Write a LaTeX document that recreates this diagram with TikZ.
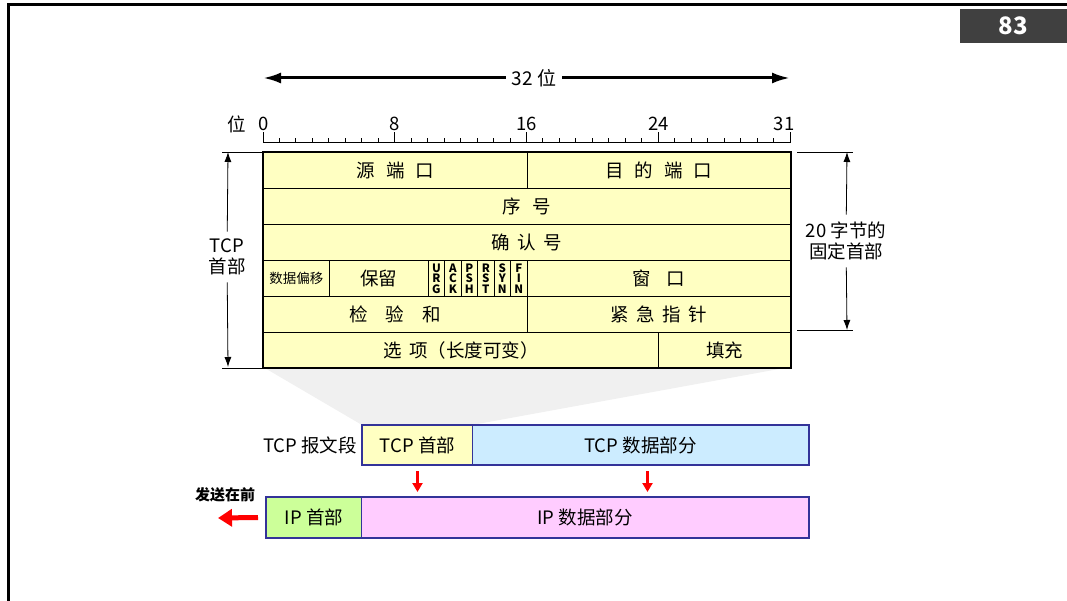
\documentclass[tikz,border=0pt]{standalone}
\usepackage{fontspec}
\setmainfont{Noto Sans CJK SC}
\usetikzlibrary{arrows.meta}

\definecolor{hdryellow}{HTML}{FFFFC2}
\definecolor{datablue}{HTML}{CCECFF}
\definecolor{ipgreen}{HTML}{CCFF99}
\definecolor{ippink}{HTML}{FFCCFF}
\definecolor{segblue}{HTML}{333399}
\definecolor{pagegray}{HTML}{404040}

\newcommand{\gap}[1][.6em]{\hspace{#1}}
\newcommand{\bitx}[1]{263+(#1)*16.47}

\tikzset{
  txt/.style={font=\fontsize{18.5}{21}\selectfont, inner sep=1pt},
  field/.style={txt, draw, line width=1pt, fill=hdryellow, anchor=north west,
    inner sep=0pt, minimum height=36},
  flag/.style={field, minimum width=16.47, align=center,
    font=\fontsize{11.5}{10.5}\selectfont\bfseries},
  dim/.style={-{Latex[length=10pt,width=7pt]}, line width=.8pt},
  widtharrow/.style={-{Latex[length=18pt,width=11pt]}, line width=3pt},
  seg/.style={txt, draw=segblue, line width=1pt, anchor=north west,
    inner sep=0pt, minimum height=39},
  redarrow/.style={-{Triangle[length=9pt,width=10pt]}, red, line width=2.5pt},
  pagebox/.style={fill=pagegray, text=white, minimum width=107, minimum height=34,
    font=\fontsize{24}{24}\selectfont\bfseries}
}

\begin{document}
\begin{tikzpicture}[x=1pt,y=-1pt]
\useasboundingbox (0,0) rectangle (1067,601);
\draw[line width=3pt] (8,601) -- (8,5) -- (1067,5);
\node[pagebox] (page) at (1013.5,26) {83};

\node[txt, font=\fontsize{19}{19}\selectfont, inner sep=6pt] (width) at (534,78) {32 位};
\coordinate (wl) at (263,78);
\coordinate (wr) at (790,78);
\draw[widtharrow] (width) -- (wl);
\draw[widtharrow] (width) -- (wr);

\draw[line width=1pt] ({\bitx{0}},143) -- ({\bitx{32}},143);
\foreach \i in {0,...,32}
  \draw[line width=1pt] ({\bitx{\i}},143) -- ++(0,-5);
\foreach \i in {0,8,...,32}
  \draw[line width=1pt] ({\bitx{\i}},143) -- ++(0,-11);
\node[txt] (bitunit) at (237,124) {位};
\node[txt] (bit0) at (264,124) {0};
\node[txt] (bit8) at ({\bitx{8}},124) {8};
\node[txt] (bit16) at ({\bitx{16}},124) {16};
\node[txt] (bit24) at ({\bitx{24}},124) {24};
\node[txt] (bit31) at (784,124) {31};

\fill[gray!12] (263,367) -- (790,367) -- (472,425) -- (362,425) -- cycle;

\node[field, minimum width=263.5] (srcport) at (263,152) {源\gap 端\gap 口};
\node[field, minimum width=263.5] (dstport) at ({\bitx{16}},152) {目\gap 的\gap 端\gap 口};
\node[field, minimum width=527] (seqno) at (263,188) {序\gap 号};
\node[field, minimum width=527] (ackno) at (263,224) {确\gap[.4em]认\gap[.4em]号};
\node[field, minimum width={4*16.47}, font=\fontsize{13.5}{13.5}\selectfont] (doff) at (263,260) {数据偏移};
\node[field, minimum width={6*16.47}] (resv) at ({\bitx{4}},260) {保留};
\foreach \f [count=\i from 0] in {U\\R\\G,A\\C\\K,P\\S\\H,R\\S\\T,S\\Y\\N,F\\I\\N}
  \node[flag] (flag\i) at ({\bitx{10+\i}},260) {\f};
\node[field, minimum width=263.5] (window) at ({\bitx{16}},260) {窗\gap[.85em]口};
\node[field, minimum width=263.5] (checksum) at (263,296) {检\gap[.95em]验\gap[.95em]和};
\node[field, minimum width=263.5] (urgptr) at ({\bitx{16}},296) {紧\gap[.4em]急\gap[.4em]指\gap[.4em]针};
\node[field, minimum width={24*16.47}, minimum height=35] (options) at (263,332) {选\gap[.4em]项（长度可变）};
\node[field, minimum width={8*16.47}, minimum height=35] (padding) at ({\bitx{24}},332) {填充};
\draw[line width=2.5pt] (srcport.north west) rectangle (padding.south east);

\draw[line width=.8pt] (srcport.north west) -- ++(-41,0);
\draw[line width=.8pt] (options.south west) -- ++(-41,0);
\coordinate (ltop) at (228,152);
\coordinate (lbot) at (228,367);
\node[txt, align=center, inner sep=7pt] (hdrlen) at (227,257) {TCP\\首部};
\draw[dim] (hdrlen) -- (ltop);
\draw[dim] (hdrlen) -- (lbot);

\draw[line width=.8pt] (797,152) -- (853,152);
\draw[line width=.8pt] (797,330) -- (853,330);
\coordinate (rtop) at (847,152);
\coordinate (rbot) at (847,330);
\node[txt, align=center, inner sep=7pt] (fixlen) at (846,241) {20 字节的\\固定首部};
\draw[dim] (fixlen) -- (rtop);
\draw[dim] (fixlen) -- (rbot);

\node[seg, fill=hdryellow, minimum width=110] (tcphead) at (362,425) {TCP 首部};
\node[seg, fill=datablue, minimum width=336] (tcpdata) at (472,425) {TCP 数据部分};
\draw[segblue, line width=2pt] (tcphead.north west) rectangle (tcpdata.south east);
\node[txt, anchor=east, inner sep=5pt] (seglabel) at (tcphead.west) {TCP 报文段};

\node[seg, fill=ipgreen, minimum width=95, minimum height=40] (iphead) at (266,497) {IP 首部};
\node[seg, fill=ippink, minimum width=447, minimum height=40] (ipdata) at (361,497) {IP 数据部分};
\draw[segblue, line width=2pt] (iphead.north west) rectangle (ipdata.south east);

\draw[redarrow] ([yshift=-6pt]tcphead.south) -- ([yshift=5pt]tcphead.south |- iphead.north);
\draw[redarrow] ([xshift=7pt,yshift=-6pt]tcpdata.south) -- ([xshift=7pt,yshift=5pt]tcpdata.south |- ipdata.north);

\node[font=\fontsize{15}{15}\selectfont\bfseries, inner sep=1pt] (sendfirst) at (225,495) {发送在前};
\coordinate (sendtip) at (218,518);
\draw[-{Triangle[length=14pt,width=17pt]}, red, line width=5pt] ([xshift=-8pt]iphead.west) -- (sendtip);
\end{tikzpicture}
\end{document}
